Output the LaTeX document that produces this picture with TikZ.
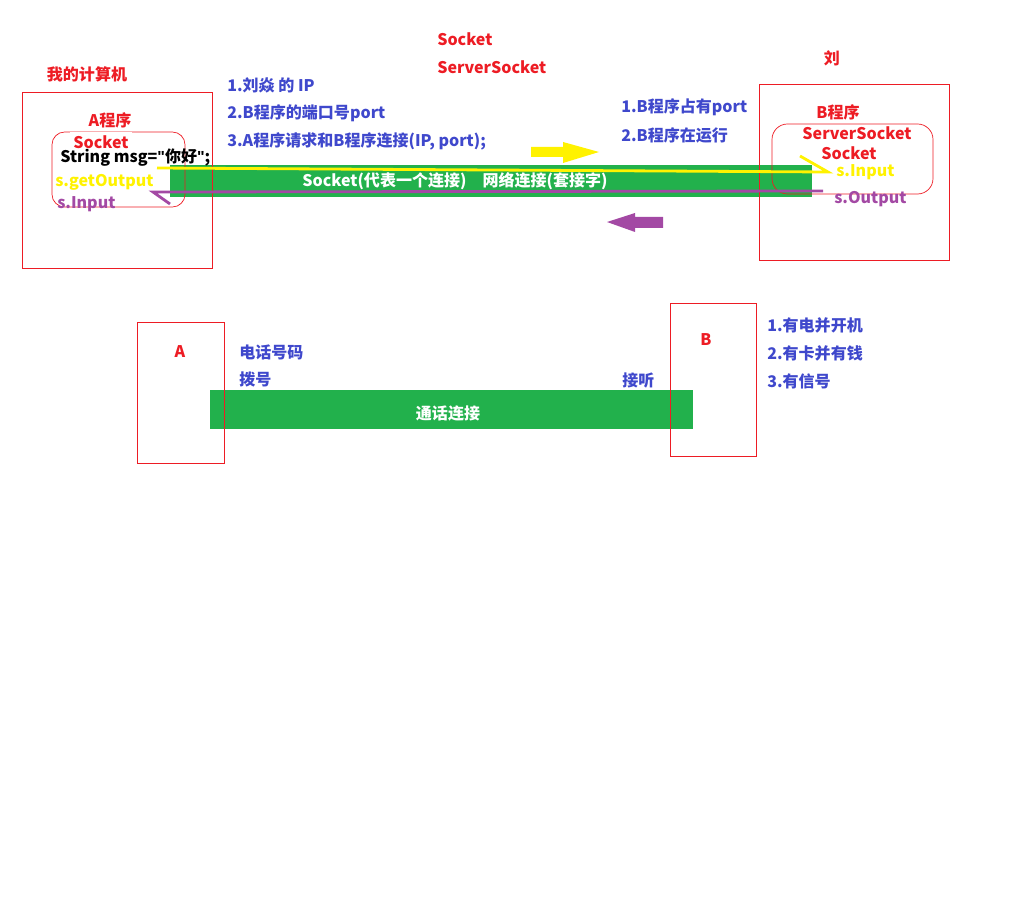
\documentclass[tikz,border=0pt]{standalone}
\usepackage{fontspec}
\setmainfont{Noto Sans CJK SC}[Ligatures=ResetAll]
\newfontfamily\quotefont{Liberation Sans}[Ligatures=ResetAll]
\newcommand{\dq}{{\quotefont\bfseries\symbol{34}}}
\usetikzlibrary{positioning}
\definecolor{paintred}{HTML}{ED1C24}
\definecolor{paintblue}{HTML}{3F48CC}
\definecolor{paintgreen}{HTML}{22B14C}
\definecolor{paintyellow}{HTML}{FFF200}
\definecolor{paintpurple}{HTML}{A349A4}

\begin{document}
\begin{tikzpicture}[
  x=0.025cm,y=-0.025cm,
  lbl/.style={inner sep=0pt,font=\bfseries\fontsize{11.4pt}{13pt}\selectfont},
  redlbl/.style={lbl,text=paintred},
  bluelbl/.style={lbl,text=paintblue,anchor=west},
  barlbl/.style={lbl,text=white},
  frame/.style={draw=paintred,line width=.7pt},
  sockbox/.style={draw=paintred,line width=.5pt,rounded corners=9pt},
  bar/.style={fill=paintgreen},
  sendwire/.style={draw=paintyellow,line width=2pt},
  recvwire/.style={draw=paintpurple,line width=2pt}
]
  \useasboundingbox (0,0) rectangle (1010,898);

  \fill[bar] (170,165) rectangle (812,197);
  \fill[bar] (210,390) rectangle (693,429);
  \node[barlbl] (link) at (455,181) {Socket(代表一个连接)\quad 网络连接(套接字)};
  \node[barlbl] (call) at (448,413) {通话连接};

  \draw[frame] (22,92) rectangle (212,268);
  \draw[frame] (759,84) rectangle (949,260);
  \draw[frame] (137,322) rectangle (224,463);
  \draw[frame] (670,303) rectangle (756,456);
  \draw[sockbox] (52,132) rectangle (185,207);
  \draw[sockbox,rounded corners=11pt] (772,124) rectangle (933,194);

  \node[redlbl] (pcA) at (87,74) {我的计算机};
  \node[redlbl] (progA) at (110,120) {A程序};
  \node[redlbl,fill=white,inner sep=2.2pt] (sockA) at (101,142) {Socket};
  \node[lbl,anchor=west] (msg) at (60,158) {String msg=\dq 你好\dq;};
  \node[lbl,anchor=west,text=paintyellow] (outA) at (55,182) {s.getOutput};
  \node[lbl,anchor=west,text=paintpurple] (inA) at (57,204) {s.Input};

  \node[redlbl,anchor=west] (sock) at (437,39) {Socket};
  \node[redlbl,anchor=west] (ssock) at (437,67) {ServerSocket};
  \node[bluelbl] (ip) at (227,85) {1.刘焱 的 IP};
  \node[bluelbl] (port) at (227,113) {2.B程序的端口号port};
  \node[bluelbl] (req) at (227,141) {3.A程序请求和B程序连接(IP, port);};
  \node[bluelbl] (hold) at (621,107) {1.B程序占有port};
  \node[bluelbl] (run) at (621,135) {2.B程序在运行};

  \node[redlbl] (pcB) at (832,58) {刘};
  \node[redlbl] (progB) at (838,112) {B程序};
  \node[redlbl] (ssockB) at (857,133) {ServerSocket};
  \node[redlbl] (sockB) at (849,153) {Socket};
  \node[lbl,anchor=west,text=paintyellow] (inB) at (836,172) {s.Input};
  \node[lbl,anchor=west,text=paintpurple] (outB) at (834,199) {s.Output};

  \node[redlbl] (telA) at (180,352) {A};
  \node[bluelbl] (num) at (239,352) {电话号码};
  \node[bluelbl] (dial) at (239,379) {拨号};
  \node[bluelbl] (answer) at (622,380) {接听};
  \node[redlbl] (telB) at (706,340) {B};
  \node[bluelbl] (power) at (767,325) {1.有电并开机};
  \node[bluelbl] (card) at (767,353) {2.有卡并有钱};
  \node[bluelbl] (signal) at (767,381) {3.有信号};

  \coordinate (sendA) at (157,168);
  \coordinate (sendB) at (828,172);
  \coordinate (recvB) at (823,191);
  \coordinate (recvA) at (153,192);
  \draw[sendwire] (sendA) -- (sendB) -- (800,156);
  \draw[recvwire] (recvB) -- (recvA) -- (170,204);

  \fill[paintyellow] (531,147) -- (563,147) -- (563,142) -- (599,152)
    -- (563,163) -- (563,157) -- (531,157) -- cycle;
  \fill[paintpurple] (663,217) -- (635,217) -- (635,213) -- (607,222)
    -- (635,232) -- (635,228) -- (663,228) -- cycle;
\end{tikzpicture}
\end{document}
